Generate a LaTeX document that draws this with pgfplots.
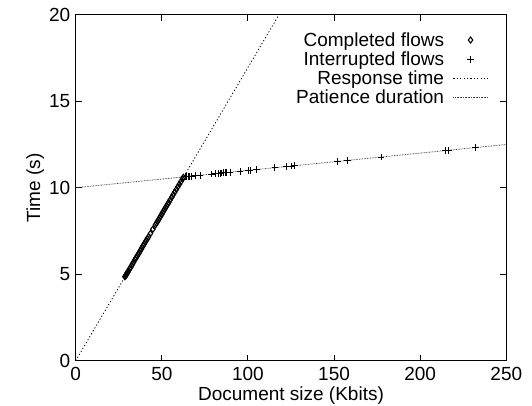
\documentclass[border=0pt]{standalone}
\usepackage{fontspec}
\setmainfont{Liberation Sans}
\usepackage{pgfplots}
\pgfplotsset{compat=1.18}
\begin{document}
\begin{tikzpicture}[font=\fontsize{19}{22}\selectfont]
\begin{axis}[
  scale only axis, width=430.6pt, height=346pt,
  xmin=0, xmax=250, ymin=0, ymax=20,
  xtick={0,50,...,250}, ytick={0,5,...,20},
  tick align=inside, major tick length=6pt,
  axis line style={line width=0.9pt},
  tick style={line width=0.9pt, black},
  xticklabel style={yshift=-3pt},
  yticklabel style={xshift=-2pt},
  xlabel={Document size (Kbits)}, ylabel={Time (s)},
  xlabel style={yshift=1pt},
  ylabel style={yshift=-2pt},
  /pgf/number format/assume math mode=true,
  legend style={draw=none, fill=none, at={(0.965,0.958)}, anchor=north east, row sep=1.8pt, column sep=8pt,
    nodes={inner sep=1pt}},
  legend cell align=right, legend plot pos=right,
  legend image code/.code={\draw[mark repeat=2,mark phase=2] plot coordinates {(0cm,0cm) (0.6cm,0cm) (1.2cm,0cm)};},
]
\coordinate (bl) at (rel axis cs:0,0);
\coordinate (tr) at (rel axis cs:1,1);
\addplot[only marks, mark=diamond, mark size=3pt, mark options={line width=1.1pt, black}] coordinates {
(28.6,4.85)(28.9,4.9)(29.2,4.95)(29.5,5.0)(29.8,5.05)(30.1,5.1)(30.4,5.15)(30.7,5.2)(31.3,5.3)(31.9,5.4)(32.5,5.5)(33.0,5.6)(33.6,5.7)
(34.5,5.85)(35.1,5.95)(35.7,6.05)(36.3,6.15)(36.9,6.25)(37.5,6.35)(38.1,6.45)(38.6,6.55)(39.2,6.65)(39.8,6.75)(40.4,6.85)(41.0,6.95)(41.6,7.05)(42.2,7.15)
(43.4,7.35)(44.8,7.6)(46.3,7.85)(46.9,7.95)(47.5,8.05)(48.1,8.15)(48.7,8.25)(49.3,8.35)(49.9,8.45)(50.4,8.55)(51.0,8.65)(51.6,8.75)
(52.2,8.85)(52.8,8.95)(53.4,9.05)(54.0,9.15)(54.9,9.3)(55.8,9.45)(56.6,9.6)(57.5,9.75)(58.4,9.9)(59.3,10.05)(60.2,10.2)(61.1,10.35)(62.0,10.5)(62.5,10.6)
};
\addlegendentry{Completed flows}
\addplot[only marks, mark=+, mark size=3.4pt, mark options={line width=1pt, black}] coordinates {
(63.5,10.64)(64.5,10.65)(65.4,10.65)(66.3,10.66)(67.3,10.67)(69.3,10.69)(72.2,10.72)(79.0,10.79)(80.9,10.81)(82.8,10.83)(83.8,10.84)(84.8,10.85)(85.7,10.86)(86.7,10.87)(87.7,10.88)(89.6,10.90)
(95.4,10.95)(100.2,11.00)(101.2,11.01)(105.1,11.05)(115.7,11.16)(122.5,11.23)(125.4,11.25)(127.3,11.27)(152.1,11.52)(157.9,11.58)(177.3,11.77)(214.8,12.15)(216.3,12.16)(232.2,12.32)
};
\addlegendentry{Interrupted flows}
\addplot[black, line width=0.8pt, dash pattern=on 1.2pt off 2.2pt] coordinates {(0,0)(118,20)};
\addlegendentry{Response time}
\addplot[black!75, line width=0.8pt, dash pattern=on 0.7pt off 0.9pt] coordinates {(0,10)(250,12.5)};
\addlegendentry{Patience duration}
\end{axis}
\pgfresetboundingbox
\path ([shift={(-75.7pt,-45.3pt)}]bl) rectangle ([shift={(25.7pt,14.7pt)}]tr);
\end{tikzpicture}
\end{document}
